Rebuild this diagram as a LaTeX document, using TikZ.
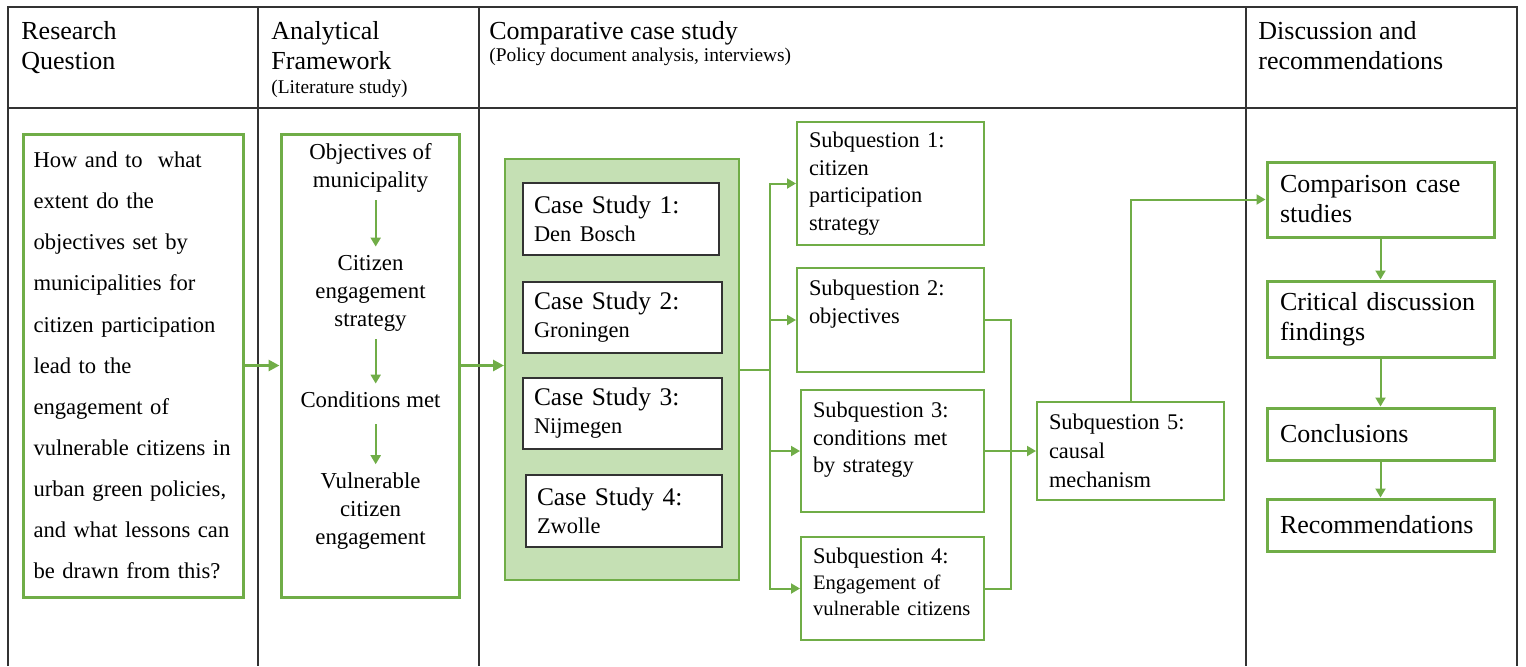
\documentclass[tikz,border=0pt]{standalone}
\usepackage{fontspec}
\setmainfont{Liberation Serif}
\usetikzlibrary{arrows.meta}
\definecolor{dg}{HTML}{70AD47}
\definecolor{lg}{HTML}{C5E0B4}
\newcommand{\cityfont}{\fontsize{11.2pt}{14pt}\selectfont}
\newcommand{\sqsmall}{\fontsize{10.3pt}{12.8pt}\selectfont}
\tikzstyle{cell} = [draw=black!80, line width=1pt]
\tikzstyle{head} = [anchor=north west, inner sep=0pt, align=left, font=\fontsize{13pt}{15pt}\selectfont]
\tikzstyle{note} = [anchor=north west, inner sep=0pt, font=\fontsize{9.7pt}{11pt}\selectfont]
\tikzstyle{bigbox} = [draw=dg, line width=1.5pt]
\tikzstyle{stepbox} = [bigbox, align=left, inner xsep=6.5pt, text width=100.5pt, minimum width=113.5pt, font=\fontsize{13pt}{15pt}\selectfont]
\tikzstyle{sqbox} = [draw=dg, line width=1pt, align=left, inner xsep=6pt, inner ysep=2pt, font=\fontsize{11.2pt}{13.75pt}\selectfont]
\tikzstyle{casebox} = [draw=black!80, line width=0.75pt, fill=white, align=left, inner xsep=5.5pt, font=\fontsize{12.7pt}{14pt}\selectfont]
\tikzstyle{frametxt} = [align=center, inner sep=4pt, font=\fontsize{11.4pt}{14pt}\selectfont]
\tikzstyle{fat} = [dg, line width=1.5pt, -{Triangle[length=5.5pt,width=5.5pt]}]
\tikzstyle{link} = [dg, line width=1pt]
\tikzstyle{linkarrow} = [link, -{Triangle[length=4.5pt,width=5pt]}]

\begin{document}
\begin{tikzpicture}[x=0.5pt,y=-0.5pt]
\useasboundingbox (0,0) rectangle (1526,666);
% table frame
\draw[cell] (8,666) -- (8,7) -- (1517,7) -- (1517,666);
\draw[cell] (8,108) -- (1517,108);
\foreach \x in {258,479,1246} \draw[cell] (\x,7) -- (\x,666);
% column headers
\node[head] (hrq) at (21,21.5) {Research\\Question};
\node[head] (haf) at (271,21.5) {Analytical\\Framework};
\node[note] (hafn) at (271,80) {(Literature study)};
\node[head] (hcs) at (489,21.5) {Comparative case study};
\node[note] (hcsn) at (489,48) {(Policy document analysis, interviews)};
\node[head] (hdr) at (1258,21.5) {Discussion and\\recommendations};
% research question
\node[bigbox, align=left, inner xsep=5.25pt, text width=99.5pt, minimum width=110pt, minimum height=231.5pt, font=\fontsize{11.3pt}{20.55pt}\selectfont] (rq) at (133,365.5) {How and to\ \ what\\extent do the\\objectives set by\\municipalities for\\citizen participation\\lead to the\\engagement of\\vulnerable citizens in\\urban green policies,\\and what lessons can\\be drawn from this?};
% analytical framework
\node[bigbox, minimum width=89pt, minimum height=231.5pt] (af) at (370,365.5) {};
\node[frametxt] (obj) at (370.5,167.5) {Objectives of\\municipality};
\node[frametxt] (strat) at (370.5,293) {Citizen\\engagement\\strategy};
\node[frametxt] (cond) at (370.5,400) {Conditions met};
\node[frametxt] (vuln) at (370.5,511) {Vulnerable\\citizen\\engagement};
\draw[linkarrow] ([xshift=2.6pt]obj.south) -- ([xshift=2.6pt]strat.north);
\draw[linkarrow] ([xshift=2.6pt]strat.south) -- ([xshift=2.6pt]cond.north);
\draw[linkarrow, shorten <=4pt] ([xshift=2.6pt]cond.south) -- ([xshift=2.6pt]vuln.north);
% case studies
\node[draw=dg, line width=1pt, fill=lg, minimum width=117pt, minimum height=210.5pt] (cases) at (622,369.5) {};
\node[casebox, text width=87pt, minimum width=98pt, minimum height=36pt] (cs1) at (621,219) {Case Study 1:\\{\cityfont Den Bosch}};
\node[casebox, text width=88.5pt, minimum width=99.5pt, minimum height=35.5pt] (cs2) at (622.5,317.5) {Case Study 2:\\{\cityfont Groningen}};
\node[casebox, text width=88.5pt, minimum width=99.5pt, minimum height=35.5pt] (cs3) at (622.5,413.5) {Case Study 3:\\{\cityfont Nijmegen}};
\node[casebox, text width=87pt, minimum width=98pt, minimum height=36pt] (cs4) at (624,511) {Case Study 4:\\{\cityfont Zwolle}};
\draw[fat] (rq.east) -- (af.west);
\draw[fat] (af.east) -- (af.east -| cases.west);
% subquestions
\node[sqbox, text width=81.5pt, minimum width=93.5pt, minimum height=61.5pt] (sq1) at (890.5,183.5) {Subquestion 1:\\citizen\\participation\\strategy};
\node[sqbox, text width=81.5pt, minimum width=93.5pt, minimum height=52pt, font=\fontsize{11.2pt}{14pt}\selectfont] (sq2) at (890.5,320) {Subquestion 2:\\objectives\\\strut};
\node[sqbox, text width=79.5pt, minimum width=91.5pt, minimum height=61pt] (sq3) at (892.5,451) {Subquestion 3:\\conditions met\\by strategy\\\mbox{}};
\node[sqbox, text width=79.5pt, minimum width=91.5pt, minimum height=51.5pt, font=\fontsize{11.2pt}{12.8pt}\selectfont] (sq4) at (892.5,588.5) {Subquestion 4:\\{\sqsmall Engagement of}\\{\sqsmall vulnerable citizens}\\[-6pt]\mbox{}};
\node[sqbox, text width=81.5pt, minimum width=93.5pt, minimum height=49pt, font=\fontsize{11.2pt}{14.5pt}\selectfont] (sq5) at (1130.5,451) {Subquestion 5:\\causal\\mechanism};
% discussion column
\node[stepbox, minimum height=37.5pt] (cmp) at (1380.5,199.5) {Comparison case\\studies};
\node[stepbox, minimum height=38pt] (crit) at (1380.5,319) {Critical discussion\\findings};
\node[stepbox, minimum height=26pt] (concl) at (1380.5,434) {Conclusions};
\node[stepbox, minimum height=26pt] (recom) at (1380.5,525) {Recommendations};
% connectors
\coordinate (split) at (770,369.5);
\draw[link] (cases.east) -- (split);
\foreach \s in {sq1,sq2,sq3,sq4} \draw[linkarrow] (split) |- (\s.west);
\coordinate (join) at (1011,451);
\draw[link] (sq2.east) -| (join);
\draw[link] (sq4.east) -| (join);
\draw[linkarrow] (sq3.east) -- (sq5.west);
\draw[linkarrow] (sq5.north) |- (cmp.west);
\foreach \a/\b in {cmp/crit,crit/concl,concl/recom} \draw[linkarrow] (\a) -- (\b);
\end{tikzpicture}
\end{document}
